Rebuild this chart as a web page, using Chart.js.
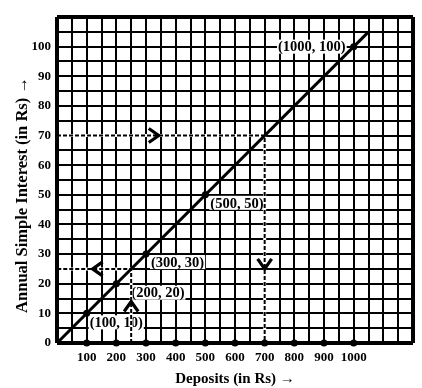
<!DOCTYPE html>
<html><head><meta charset="utf-8">
<script src="https://cdn.jsdelivr.net/npm/chart.js@4"></script>
<style>html,body{margin:0;padding:0;background:#fff}#wrap{width:422px;height:388px}</style>
</head><body><div id="wrap"><canvas id="c" width="422" height="388"></canvas></div>
<script>
// ---- data ----
const deposits = [100, 200, 300, 500, 1000];
const interest = [10, 20, 30, 50, 100];
const pointLabels = ['(100, 10)', '(200, 20)', '(300, 30)', '(500, 50)', '(1000, 100)'];
const lineX = [0, 1050];
const lineY = [0, 105];
const xTickLabels = [100, 200, 300, 400, 500, 600, 700, 800, 900, 1000];
const yTickLabels = [0, 10, 20, 30, 40, 50, 60, 70, 80, 90, 100];
const guideAX = [0, 700, 700];
const guideAY = [70, 70, 0];
const guideBX = [250, 250, 0];
const guideBY = [0, 25, 25];
const arrowX = [343, 700, 120, 250];
const arrowY = [70, 25, 25, 14];
const arrowDir = ['right', 'down', 'left', 'up'];
const xMin = 0, xMax = 1200, xStep = 50;
const yMin = 0, yMax = 110, yStep = 5;
const xTitle = 'Deposits (in Rs) \u2192';
const yTitle = 'Annual Simple Interest (in Rs) \u2192';

// ---- styles ----
const FONT = "'Liberation Serif', 'Times New Roman', serif";
const labelOffsets = [[3, 9, 'left'], [15, 9, 'left'], [5, 8, 'left'], [5, 8, 'left'], [-8, 0, 'right']];

const toPts = (xs, ys) => xs.map((x, i) => ({x: x, y: ys[i]}));

const gridWidth = (max) => (ctx) => {
  const v = ctx.tick ? ctx.tick.value : null;
  return (v === 0 || v === max) ? 4 : 2;
};

const labelPlugin = {
  id: 'pointLabels',
  beforeDatasetsDraw(chart) {
    const {ctx, scales: {x, y}} = chart;
    ctx.save();
    ctx.font = 'bold 14.5px ' + FONT;
    ctx.textBaseline = 'middle';
    deposits.forEach((d, i) => {
      const px = x.getPixelForValue(d) + labelOffsets[i][0];
      const py = y.getPixelForValue(interest[i]) + labelOffsets[i][1];
      const align = labelOffsets[i][2];
      const w = ctx.measureText(pointLabels[i]).width;
      const left = align === 'left' ? px : px - w;
      ctx.fillStyle = '#fff';
      ctx.fillRect(left - 1, py - 7, w + 2, 14);
      ctx.fillStyle = '#000';
      ctx.textAlign = align;
      ctx.fillText(pointLabels[i], px, py + 1);
    });
    ctx.restore();
  },
  afterDatasetsDraw(chart) {
    const {ctx, scales: {x, y}} = chart;
    ctx.save();
    ctx.strokeStyle = '#000';
    ctx.lineWidth = 3.2;
    ctx.lineJoin = 'miter';
    const depth = 10, half = 7;
    arrowX.forEach((ax, i) => {
      const tx = x.getPixelForValue(ax), ty = y.getPixelForValue(arrowY[i]);
      let dx = 0, dy = 0;
      if (arrowDir[i] === 'right') dx = 1;
      if (arrowDir[i] === 'left') dx = -1;
      if (arrowDir[i] === 'up') dy = -1;
      if (arrowDir[i] === 'down') dy = 1;
      const bx = tx - dx * depth, by = ty - dy * depth;
      const nx = -dy, ny = dx;
      ctx.beginPath();
      ctx.moveTo(bx + nx * half, by + ny * half);
      ctx.lineTo(tx, ty);
      ctx.lineTo(bx - nx * half, by - ny * half);
      ctx.stroke();
    });
    // y axis title
    ctx.fillStyle = '#000';
    ctx.font = 'bold 16.5px ' + FONT;
    ctx.textAlign = 'center';
    ctx.textBaseline = 'alphabetic';
    ctx.translate(27, 195);
    ctx.rotate(-Math.PI / 2);
    ctx.fillText(yTitle, 0, 0);
    ctx.restore();
  }
};

const whiteUnder = {showLine: true, borderColor: '#fff', borderWidth: 3, pointRadius: 0, order: 6, clip: -2};
const dashed = {showLine: true, borderColor: '#000', borderWidth: 2, borderDash: [4, 2], pointRadius: 0, order: 2, clip: -2};

new Chart(document.getElementById('c'), {
  type: 'scatter',
  data: {
    datasets: [
      Object.assign({data: toPts(guideAX, guideAY)}, whiteUnder),
      Object.assign({data: toPts(guideBX, guideBY)}, whiteUnder),
      {data: toPts(lineX, lineY), showLine: true, borderColor: '#000', borderWidth: 3, pointRadius: 0, order: 3},
      Object.assign({data: toPts(guideAX, guideAY)}, dashed),
      Object.assign({data: toPts(guideBX, guideBY)}, dashed),
      {data: toPts(deposits, interest), pointRadius: 3.5, backgroundColor: '#000', borderColor: '#000', borderWidth: 0, order: 1},
      {data: xTickLabels.map(v => ({x: v, y: 0})), pointRadius: 3.5, backgroundColor: '#000', borderColor: '#000', borderWidth: 0, clip: false, order: 1}
    ]
  },
  options: {
    responsive: false,
    animation: false,
    layout: {padding: {top: 17, right: 9, left: 0, bottom: 0}},
    plugins: {legend: {display: false}, tooltip: {enabled: false}},
    scales: {
      x: {
        type: 'linear', min: xMin, max: xMax,
        afterFit(s) { s.height = 45; },
        border: {display: false},
        grid: {color: '#000', lineWidth: gridWidth(xMax), drawTicks: false},
        ticks: {
          stepSize: xStep, autoSkip: false, maxRotation: 0, padding: 7, color: '#000',
          font: {family: FONT, size: 13, weight: 'bold'},
          callback: (v) => xTickLabels.includes(v) ? String(v) : ''
        },
        title: {display: true, text: xTitle, color: '#000', font: {family: FONT, size: 15, weight: 'bold'}, padding: {top: 0, bottom: 0}}
      },
      y: {
        type: 'linear', min: yMin, max: yMax,
        afterFit(s) { s.width = 57; },
        border: {display: false},
        grid: {color: '#000', lineWidth: gridWidth(yMax), drawTicks: false},
        ticks: {
          stepSize: yStep, autoSkip: false, padding: 6, color: '#000',
          font: {family: FONT, size: 13, weight: 'bold'},
          callback: (v) => yTickLabels.includes(v) ? String(v) : ''
        }
      }
    }
  },
  plugins: [labelPlugin]
});
</script>
</body></html>
